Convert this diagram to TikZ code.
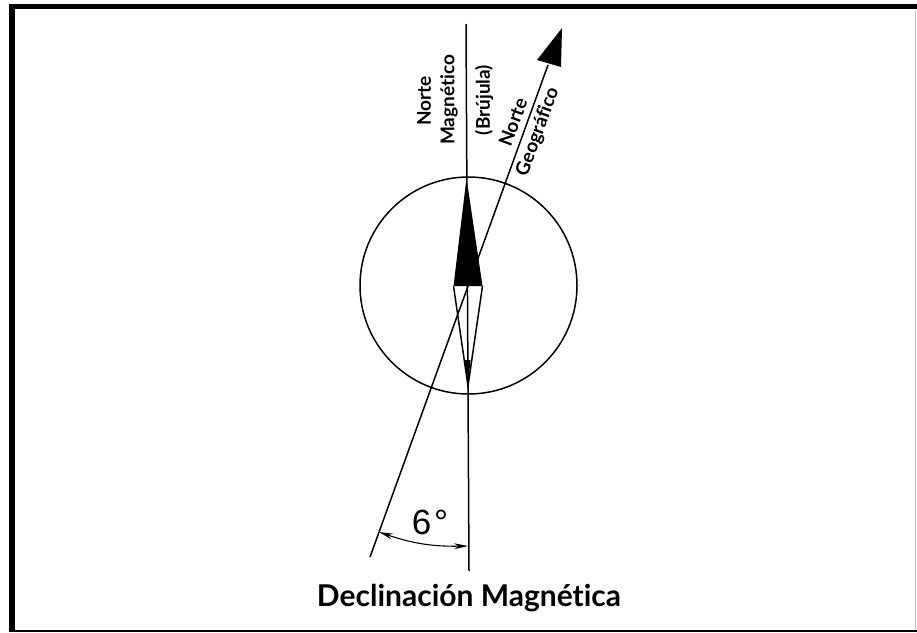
\documentclass[tikz,border=0pt]{standalone}
\usepackage{fontspec}
\usetikzlibrary{arrows.meta}
\setmainfont[Ligatures=NoCommon]{Lato}
\newfontfamily\dimfont{Liberation Sans}
\begin{document}
\begin{tikzpicture}[x=1pt,y=-1pt,>=stealth,font=\fontsize{19}{22}\selectfont\bfseries]
	\tikzset{label/.style={inner sep=0pt},thin line/.style={line width=1.5pt}}
	\useasboundingbox (0,0) rectangle (917,632);
	% frame
	\draw[line width=5.5pt] (12,632)--(12,6.5)--(917,6.5);
	\draw[line width=2.5pt] (12,631)--(917,631);
	\draw[line width=0.6pt,black!25] (915,10)--(915,630);
	% compass
	\coordinate (center) at (468.5,285.5);
	\draw[thin line] (center) circle(108.5);
	\coordinate (tip) at (466.5,178);
	\coordinate (baseL) at (453.5,286);
	\coordinate (baseR) at (482.5,286);
	\coordinate (south) at (468,386);
	\fill (tip)--(baseL)--(baseR)--cycle;
	\draw[thin line] (baseL)--(south)--(baseR);
	\fill (464.5,360)--(south)--(470.5,360)--cycle;
	% north lines
	\coordinate (magN) at (466,24);
	\coordinate (magS) at (469,571);
	\draw[thin line] (magN)--(magS);
	\coordinate (geoN) at (548,65);
	\coordinate (geoS) at (370,557);
	\draw[thin line] (geoS)--(geoN);
	\fill (562,28)--(537,60)--(561,67)--cycle;
	% angle
	\coordinate (angL) at (379,532);
	\coordinate (angR) at (468,546);
	\draw[line width=1.1pt,{Stealth[length=14pt,width=6pt]}-{Stealth[length=14pt,width=6pt]}] (angL) to[bend right=10] (angR);
	\node[label,font=\dimfont\fontsize{35}{40}\selectfont] (angle) at (430,522) {6\kern3pt\char"00B0};
	% labels
	\node[label,rotate=90] (norteM) at (424,101) {Norte};
	\node[label,rotate=90] (magnetico) at (449,100) {Magnético};
	\node[label,rotate=90] (brujula) at (484,100) {(Brújula)};
	\node[label,rotate=70] (norteG) at (513,122) {Norte};
	\node[label,rotate=70] (geografico) at (538,132) {Geográfico};
	\node[label,font=\fontsize{30}{34}\selectfont\bfseries] (title) at (469,598) {Declinación Magnética};
\end{tikzpicture}
\end{document}
